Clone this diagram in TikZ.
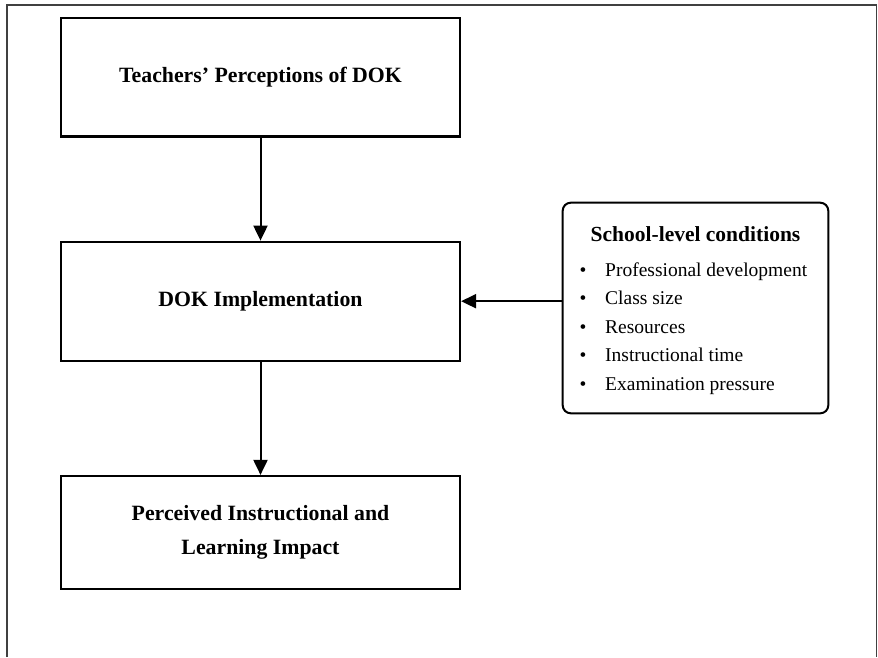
\documentclass[tikz,border=0pt]{standalone}
\usepackage{fontspec}
\setmainfont{Liberation Serif}
\usetikzlibrary{arrows.meta}
\begin{document}
\begin{tikzpicture}[x=1pt,y=-1pt,
  mainbox/.style={draw, line width=2.2pt, minimum width=399pt, inner sep=0pt,
    font=\fontsize{21.8}{34}\selectfont\bfseries, align=center},
  sidebox/.style={draw, line width=2pt, rounded corners=8pt,
    minimum width=265.6pt, minimum height=210.6pt, inner sep=0pt},
  flow/.style={-{Triangle[length=15pt,width=14pt]}, line width=2pt},
  itemtext/.style={anchor=base west, inner sep=0pt, font=\fontsize{19.5}{24}\selectfont},
  bul/.style={anchor=base, inner sep=0pt, font=\fontsize{19.5}{24}\selectfont}]
\useasboundingbox (0,0) rectangle (878,657);
\draw[line width=1.2pt, black!75] (7,657) -- (7,5) -- (876.5,5) -- (876.5,657);

\node[mainbox, minimum height=118.5pt] (t1) at (260.5,77.25) {Teachers’ Perceptions of DOK};
\node[mainbox, minimum height=119pt] (t2) at (260.5,301.2) {DOK Implementation};
\node[mainbox, minimum height=113pt] (t3) at (260.5,532.5) {Perceived Instructional and\\Learning Impact};

\node[sidebox] (side) at (695.5,308) {};
\node[anchor=base, inner sep=0pt, font=\fontsize{21.5}{24}\selectfont\bfseries] (sidetitle) at (695.5,241.7) {School-level conditions};
\foreach \t [count=\i] in {Professional development, Class size, Resources, Instructional time, Examination pressure} {
  \node[bul] (b\i) at (583,{276+(\i-1)*28.5}) {•};
  \node[itemtext] (it\i) at (605,{276+(\i-1)*28.5}) {\t};
}

\draw[flow] (t1.south) -- (t2.north);
\draw[flow] (t2.south) -- (t3.north);
\draw[flow] (side.west |- t2.east) -- (t2.east);
\end{tikzpicture}
\end{document}
